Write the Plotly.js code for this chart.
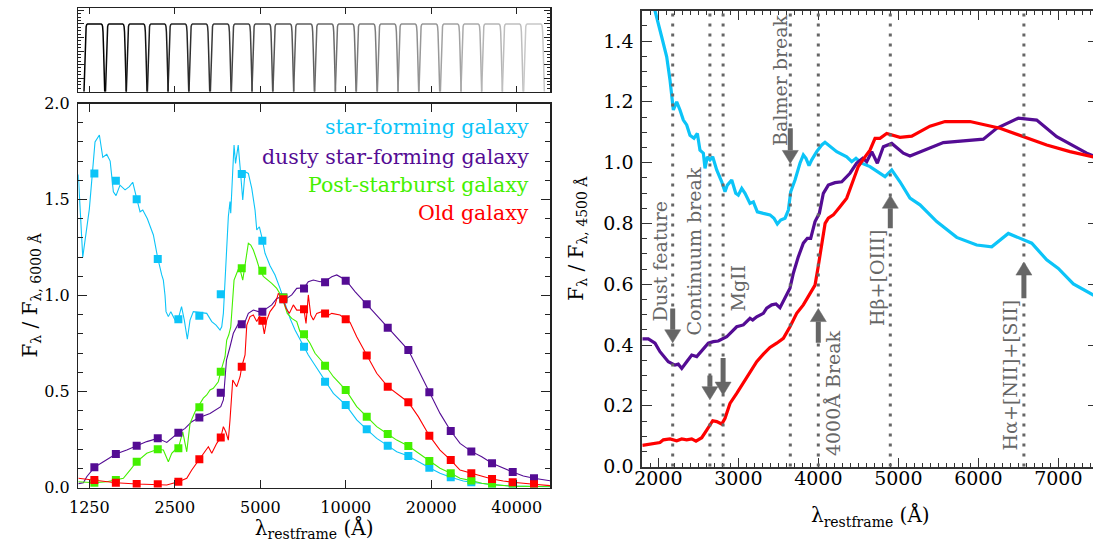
<!DOCTYPE html>
<html><head><meta charset="utf-8">
<script src="https://cdn.plot.ly/plotly-3.0.1.min.js"></script>
<style>html,body{margin:0;padding:0;overflow:hidden;background:#fff}#chart{width:1100px;height:542px}</style>
</head><body><div id="chart"></div><script>
// ---------- data: left panel (normalised at 6000 A) ----------
const filterLam = [1302,1550,1835,2177,2573,3050,3628,4301,5083,6026,7127,8453,9993,11850,14050,16605,19686,23420,27670,32730,38710,46000];
const sfPhot    = [1.636,1.598,1.501,1.190,0.876,0.895,1.006,1.633,1.285,0.980,0.733,0.551,0.430,0.303,0.218,0.164,0.103,0.053,0.027,0.012,0.005,0.002];
const dustyPhot = [0.105,0.174,0.218,0.256,0.285,0.364,0.494,0.850,0.916,0.989,1.037,1.069,1.077,0.954,0.832,0.716,0.496,0.294,0.188,0.126,0.081,0.048];
const psbPhot   = [0.025,0.039,0.134,0.199,0.204,0.418,0.603,1.142,1.129,0.990,0.798,0.634,0.508,0.369,0.279,0.216,0.138,0.074,0.036,0.015,0.006,0.004];
const oldPhot   = [0.039,0.025,0.018,0.017,0.030,0.147,0.260,0.629,0.869,0.980,0.928,0.906,0.876,0.687,0.525,0.444,0.270,0.143,0.074,0.044,0.027,0.017];

const sfSpec = [[1143,1.63],[1185,1.20],[1250,1.45],[1309,1.80],[1356,1.836],[1394,1.72],[1440,1.735],[1480,1.70],[1519,1.54],[1552,1.52],[1603,1.575],[1670,1.55],[1729,1.567],[1777,1.59],[1835,1.506],[1886,1.436],[1928,1.445],[2001,1.40],[2101,1.315],[2177,1.194],[2248,1.107],[2278,1.08],[2309,1.00],[2328,0.916],[2372,0.89],[2420,0.916],[2504,0.872],[2572,0.88],[2640,0.942],[2700,0.872],[2767,0.772],[2828,0.872],[2905,0.916],[3050,0.912],[3238,0.907],[3373,0.864],[3492,0.846],[3607,0.82],[3657,0.837],[3706,0.907],[3756,1.08],[3790,1.185],[3858,1.41],[3911,1.489],[3934,1.428],[3998,1.648],[4041,1.784],[4090,1.688],[4180,1.784],[4243,1.671],[4336,1.497],[4418,1.645],[4538,1.636],[4665,1.558],[4791,1.445],[4858,1.341],[4962,1.358],[5058,1.307],[5195,1.22],[5410,1.155],[5634,1.107],[5867,1.037],[6026,0.985],[6185,0.933],[6363,0.881],[6626,0.82],[6862,0.777],[7127,0.733],[7380,0.69],[7687,0.65],[8453,0.56],[9041,0.49],[9993,0.43],[10925,0.352],[11850,0.303],[12849,0.256],[14050,0.218],[15113,0.186],[16605,0.164],[18256,0.129],[19686,0.103],[21470,0.074],[23420,0.053],[25940,0.034],[27670,0.027],[31360,0.018],[38710,0.007],[52370,0.004]];
const dustySpec = [[1143,0.02],[1191,0.025],[1224,0.056],[1302,0.105],[1401,0.134],[1550,0.174],[1693,0.195],[1835,0.218],[1991,0.239],[2177,0.256],[2342,0.235],[2572,0.285],[2717,0.308],[2868,0.343],[3050,0.364],[3326,0.386],[3628,0.421],[3706,0.456],[3756,0.577],[3800,0.664],[3911,0.733],[4018,0.803],[4130,0.837],[4219,0.864],[4301,0.85],[4418,0.864],[4538,0.907],[4725,0.924],[4922,0.916],[5090,0.916],[5267,0.933],[5486,0.951],[5713,0.985],[5949,0.994],[6185,0.985],[6451,1.003],[6718,1.037],[7127,1.04],[7380,1.072],[7687,1.081],[8116,1.072],[8453,1.075],[8925,1.098],[9292,1.107],[9993,1.081],[10776,1.02],[11850,0.954],[12849,0.898],[14050,0.832],[15113,0.785],[16605,0.716],[17775,0.629],[19686,0.496],[21470,0.386],[23420,0.294],[25250,0.23],[27670,0.188],[30110,0.16],[32730,0.126],[35860,0.1],[38710,0.081],[42190,0.06],[46000,0.048],[52370,0.035]];
const psbSpec = [[1143,0.03],[1302,0.025],[1440,0.03],[1552,0.039],[1647,0.048],[1739,0.091],[1835,0.134],[1991,0.178],[2177,0.199],[2278,0.195],[2372,0.134],[2438,0.178],[2504,0.195],[2572,0.204],[2666,0.29],[2754,0.186],[2828,0.334],[2945,0.395],[3050,0.43],[3150,0.465],[3238,0.482],[3326,0.508],[3416,0.517],[3557,0.551],[3628,0.603],[3756,0.681],[3808,0.768],[3870,0.794],[3935,0.837],[3998,0.977],[4041,1.08],[4130,1.116],[4219,1.15],[4336,1.08],[4418,1.15],[4538,1.272],[4628,1.263],[4725,1.237],[4858,1.185],[4962,1.14],[5124,1.10],[5336,1.08],[5486,1.063],[5713,1.037],[5949,0.994],[6223,0.907],[6451,0.881],[6718,0.864],[6900,0.811],[7127,0.798],[7482,0.751],[7792,0.699],[8453,0.638],[9041,0.577],[9993,0.508],[10925,0.421],[11850,0.369],[12849,0.317],[14050,0.279],[15113,0.247],[16605,0.216],[18005,0.178],[19686,0.138],[21470,0.1],[23420,0.074],[25250,0.048],[27670,0.036],[30110,0.022],[32730,0.015],[38710,0.007],[52370,0.004]];
const oldSpec = [[1143,0.048],[1302,0.039],[1440,0.03],[1550,0.025],[1835,0.018],[2177,0.017],[2342,0.013],[2572,0.03],[2754,0.048],[2868,0.091],[3050,0.147],[3150,0.178],[3281,0.212],[3373,0.178],[3512,0.23],[3628,0.26],[3706,0.317],[3778,0.29],[3858,0.247],[3911,0.352],[3998,0.56],[4130,0.525],[4243,0.577],[4301,0.629],[4418,0.69],[4480,0.846],[4601,0.89],[4725,0.898],[4858,0.864],[4962,0.89],[5058,0.881],[5165,0.80],[5267,0.872],[5410,0.916],[5634,0.951],[5787,1.011],[5906,0.994],[5996,0.985],[6159,0.933],[6327,0.907],[6535,0.951],[6718,0.924],[7127,0.924],[7244,0.855],[7380,1.003],[7525,0.898],[7687,0.872],[7901,0.907],[8228,0.916],[8520,0.89],[8925,0.907],[9543,0.898],[9993,0.877],[10349,0.86],[10925,0.785],[11850,0.687],[12849,0.595],[14050,0.525],[15113,0.49],[16605,0.444],[18005,0.369],[19686,0.27],[21470,0.195],[23420,0.143],[25250,0.091],[27670,0.074],[30110,0.056],[32730,0.044],[35860,0.034],[38710,0.027],[46000,0.017],[52370,0.01]];

// ---------- data: right panel (normalised at 4500 A) ----------
const sfZoom = [[1900,1.56],[1959,1.502],[2042,1.414],[2105,1.348],[2146,1.272],[2188,1.173],[2230,1.2],[2271,1.173],[2313,1.14],[2355,1.124],[2396,1.09],[2446,1.08],[2488,1.096],[2521,1.041],[2563,1.031],[2584,0.981],[2613,1.019],[2646,1.009],[2680,1.019],[2730,0.976],[2793,0.937],[2834,0.904],[2863,0.926],[2918,0.943],[2968,0.899],[3000,0.893],[3043,0.915],[3084,0.899],[3146,0.866],[3188,0.871],[3238,0.838],[3313,0.833],[3396,0.828],[3446,0.817],[3488,0.798],[3530,0.811],[3584,0.817],[3626,0.844],[3655,0.904],[3709,0.943],[3771,0.998],[3813,1.025],[3846,1.014],[3884,0.99],[3918,1.009],[3980,1.036],[4043,1.058],[4084,1.067],[4146,1.054],[4230,1.036],[4355,1.019],[4418,1.003],[4471,1.014],[4543,0.998],[4646,0.987],[4750,0.970],[4834,0.954],[4918,0.976],[5021,0.937],[5146,0.883],[5271,0.861],[5480,0.806],[5730,0.754],[5980,0.729],[6168,0.723],[6375,0.767],[6668,0.735],[6855,0.68],[7000,0.652],[7188,0.601],[7500,0.555]];
const dustyZoom = [[1800,0.42],[1875,0.42],[1959,0.406],[2021,0.378],[2125,0.345],[2209,0.334],[2250,0.337],[2293,0.323],[2355,0.345],[2418,0.367],[2480,0.362],[2563,0.389],[2625,0.406],[2688,0.411],[2750,0.413],[2855,0.427],[2980,0.46],[3063,0.466],[3146,0.488],[3180,0.482],[3230,0.493],[3313,0.504],[3355,0.521],[3418,0.532],[3471,0.535],[3521,0.523],[3584,0.554],[3646,0.587],[3688,0.636],[3750,0.69],[3813,0.735],[3863,0.751],[3905,0.751],[3959,0.806],[4013,0.833],[4063,0.899],[4125,0.926],[4209,0.934],[4293,0.937],[4396,0.965],[4480,0.998],[4555,1.014],[4605,1.003],[4668,1.036],[4738,0.998],[4813,1.052],[4918,1.063],[5063,1.031],[5146,1.022],[5271,1.036],[5563,1.066],[6063,1.077],[6230,1.113],[6500,1.146],[6730,1.14],[6980,1.085],[7355,1.031],[7500,1.015]];
const oldZoom = [[1800,0.07],[1938,0.077],[2021,0.079],[2063,0.088],[2146,0.091],[2230,0.085],[2293,0.091],[2355,0.088],[2418,0.091],[2471,0.084],[2543,0.095],[2605,0.12],[2680,0.151],[2730,0.148],[2793,0.14],[2834,0.159],[2896,0.208],[2980,0.241],[3063,0.274],[3146,0.307],[3230,0.345],[3313,0.37],[3396,0.392],[3480,0.406],[3563,0.422],[3646,0.46],[3730,0.504],[3813,0.532],[3896,0.57],[3959,0.597],[4000,0.66],[4043,0.74],[4085,0.80],[4125,0.817],[4188,0.828],[4271,0.855],[4355,0.883],[4438,0.943],[4500,0.987],[4584,1.019],[4646,1.041],[4709,1.08],[4771,1.08],[4855,1.096],[5021,1.083],[5168,1.087],[5396,1.12],[5584,1.135],[5896,1.135],[6271,1.113],[6521,1.089],[6855,1.058],[7146,1.036],[7500,1.015]];

const featureLam = [2180,2645,2810,3650,4000,4900,6570];
// arrows: [wavelength, tail, tip]
const arrowSpec = [[2180,0.52,0.407],[2645,0.30,0.22],[2810,0.357,0.235],[3650,1.113,0.997],[4000,0.407,0.52],[4900,0.784,0.893],[6570,0.554,0.673]];
const featureLabels = [['Dust feature',2021,0.472],['Continuum break',2446,0.426],['MgII',2996,0.505],['Balmer break',3521,1.048],['4000Å Break',4184,0.028],['Hβ+[OIII]',4734,0.456],['Hα+[NII]+[SII]',6396,0.048]];

const seriesNames = ['star-forming galaxy','dusty star-forming galaxy','Post-starburst galaxy','Old galaxy'];
const seriesColors = ['#0cc4f8','#540c94','#44f000','#ff0000'];

// filter response shape (offsets in dex, transmission)
const filterOffset = [-0.0365,-0.0345,-0.0325,-0.0305,-0.029,-0.027,-0.024,0.024,0.027,0.029,0.0305,0.0325,0.0345,0.0365];
const filterTrans  = [0,0.3,0.62,0.88,0.96,0.99,1,1,0.99,0.96,0.88,0.62,0.3,0];

// ---------- build ----------
const SERIF = 'DejaVu Serif';
const traces = [];
filterLam.forEach((c,i)=>{
  const g = Math.round(200*i/(filterLam.length-1));
  traces.push({x: filterOffset.map(o=>c*Math.pow(10,o)), y: filterTrans, xaxis:'x', yaxis:'y',
    mode:'lines', line:{color:`rgb(${g},${g},${g})`, width:1.5}, hoverinfo:'skip', showlegend:false});
});
const specs = [sfSpec, dustySpec, psbSpec, oldSpec];
const phots = [sfPhot, dustyPhot, psbPhot, oldPhot];
specs.forEach((s,i)=>{
  traces.push({x:s.map(p=>p[0]), y:s.map(p=>p[1]), xaxis:'x2', yaxis:'y2', mode:'lines',
    line:{color:seriesColors[i], width:1.1}, name:seriesNames[i], showlegend:false});
});
phots.forEach((p,i)=>{
  traces.push({x:filterLam, y:p, xaxis:'x2', yaxis:'y2', mode:'markers',
    marker:{symbol:'square', size:8, color:seriesColors[i]}, name:seriesNames[i], showlegend:false});
});
const zooms = [[sfZoom,0],[dustyZoom,1],[oldZoom,3]];
zooms.forEach(([s,i])=>{
  traces.push({x:s.map(p=>p[0]), y:s.map(p=>p[1]), xaxis:'x3', yaxis:'y3', mode:'lines',
    line:{color:seriesColors[i], width:3.2}, name:seriesNames[i], showlegend:false});
});

const W=1100,H=542;
const fx = px=>px/W, fy = py=>1-py/H;
const frameL = {showline:true, mirror:'ticks', linecolor:'#222', linewidth:1.5, ticks:'inside', tickcolor:'#222', zeroline:false, showgrid:false};
const frameR = {showline:true, mirror:'ticks', linecolor:'#333', linewidth:2, ticks:'inside', tickcolor:'#333', zeroline:false, showgrid:false};
const xTicksL = [1250,2500,5000,10000,20000,40000];

const layout = {
  width:W, height:H, margin:{l:0,r:0,t:0,b:0}, paper_bgcolor:'#fff', plot_bgcolor:'#fff', showlegend:false,
  xaxis: Object.assign({}, frameL, {domain:[fx(78.3),fx(550)], anchor:'y', type:'log', range:[Math.log10(1143),Math.log10(52370)],
    tickvals:xTicksL, showticklabels:false, ticklen:6}),
  yaxis: Object.assign({}, frameL, {domain:[fy(91.7),fy(8.3)], anchor:'x', range:[0,1.23], dtick:0.2, tick0:0, ticklen:6,
    showticklabels:false, minor:{dtick:0.05, ticklen:3, ticks:'inside', tickcolor:'#222'}}),
  xaxis2: Object.assign({}, frameL, {domain:[fx(78.3),fx(550)], anchor:'y2', type:'log', range:[Math.log10(1143),Math.log10(52370)],
    tickvals:xTicksL, ticktext:xTicksL.map(String), ticklen:8, tickfont:{family:SERIF,size:16,color:'#000'}, ticklabelstandoff:5,
    title:{text:'λ<sub>restframe</sub> (Å)', font:{family:SERIF,size:20,color:'#000'}, standoff:15}}),
  yaxis2: Object.assign({}, frameL, {domain:[fy(487.5),fy(103.5)], anchor:'x2', range:[0,2.0], dtick:0.5, tick0:0, ticklen:9, tickformat:'.1f',
    tickfont:{family:SERIF,size:16,color:'#000'}, ticklabelstandoff:4,
    minor:{dtick:0.1, ticklen:5, ticks:'inside', tickcolor:'#222'},
    title:{text:'F<sub>λ</sub> / F<sub>λ, 6000 Å</sub>', font:{family:SERIF,size:20,color:'#000'}, standoff:0}}),
  xaxis3: Object.assign({}, frameR, {domain:[fx(642.3),fx(1098.3)], anchor:'y3', range:[1800,7500], dtick:1000, tick0:0, ticklen:9,
    tickfont:{family:SERIF,size:19,color:'#000'}, ticklabelstandoff:-6,
    minor:{dtick:100, ticklen:4, ticks:'inside', tickcolor:'#333'},
    title:{text:'λ<sub>restframe</sub> (Å)', font:{family:SERIF,size:20,color:'#000'}, standoff:20}}),
  yaxis3: Object.assign({}, frameR, {domain:[fy(466.6),fy(10.6)], anchor:'x3', range:[0,1.5], dtick:0.2, tick0:0, ticklen:10, tickformat:'.1f',
    tickfont:{family:SERIF,size:19,color:'#000'}, ticklabelstandoff:3,
    minor:{dtick:0.05, ticklen:5, ticks:'inside', tickcolor:'#333'},
    title:{text:'F<sub>λ</sub> / F<sub>λ, 4500 Å</sub>', font:{family:SERIF,size:20,color:'#000'}, standoff:14}}),
  shapes: [],
  annotations: []
};
featureLam.forEach(l=>{
  layout.shapes.push({type:'line', xref:'x3', yref:'y3 domain', x0:l, x1:l, y0:0, y1:1,
    line:{color:'#666', width:3, dash:'3px,7px'}, layer:'above'});
});
// arrows: shaft + triangular head, in data units of the right panel
const headHalfWidth = 100, headLength = 0.043;
arrowSpec.forEach(([l,tail,tip])=>{
  const dir = tip > tail ? 1 : -1;
  const base = tip - dir*headLength;
  layout.shapes.push({type:'line', xref:'x3', yref:'y3', x0:l, x1:l, y0:tail, y1:base,
    line:{color:'#666', width:5}, layer:'above'});
  layout.shapes.push({type:'path', xref:'x3', yref:'y3',
    path:`M ${l-headHalfWidth},${base} L ${l+headHalfWidth},${base} L ${l},${tip} Z`,
    fillcolor:'#666', line:{color:'#666', width:0.5}, layer:'above'});
});
const legendY = [127.3,156.7,185,213.3];
seriesNames.forEach((n,i)=>{
  layout.annotations.push({xref:'paper', yref:'paper', x:fx(531), y:fy(legendY[i]), xanchor:'right', yanchor:'middle',
    text:n, showarrow:false, font:{family:SERIF, size:20.5, color:seriesColors[i]}});
});
featureLabels.forEach(([t,x,y])=>{
  layout.annotations.push({xref:'x3', yref:'y3', x:x, y:y, xanchor:'center', yanchor:'bottom', textangle:-90,
    text:t, showarrow:false, font:{family:SERIF, size:19, color:'#666'}});
});

Plotly.newPlot('chart', traces, layout, {staticPlot:true, displayModeBar:false});
</script></body></html>
